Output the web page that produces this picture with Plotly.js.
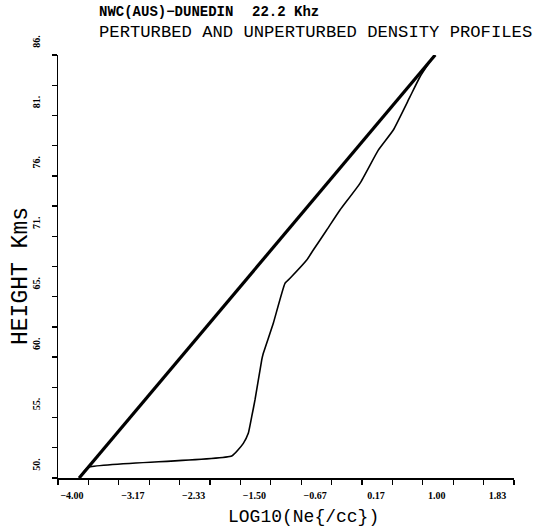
<!DOCTYPE html>
<html>
<head>
<meta charset="utf-8">
<script src="https://cdn.plot.ly/plotly-3.0.1.min.js"></script>
<style>html,body{margin:0;padding:0;background:#fff;}#chart{width:536px;height:531px;}</style>
</head>
<body>
<div id="chart"></div>
<script>
// Unperturbed profile (thick straight line)
const unpertLogNe = [-3.71, -1.50, 1.17];
const unpertHeight = [50.0, 66.3, 86.0];

// Perturbed profile (thin line)
const pertLogNe = [-3.71, -3.585, -1.619, -1.460, -1.392, -1.345, -1.300, -1.208, -1.186, -1.049, -0.889, -0.820, -0.591, -0.501, -0.317, -0.135, 0.139, 0.390, 0.596, 0.825, 0.962, 1.144, 1.17];
const pertHeight = [50.0, 50.91, 51.87, 52.95, 53.80, 55.22, 56.64, 60.04, 60.61, 63.17, 66.57, 67.0, 68.55, 69.40, 71.11, 72.81, 75.08, 77.91, 79.62, 82.45, 84.15, 85.86, 86.0];

// Axis ticks
const xTickVals = [-4.0, -3.5833, -3.1667, -2.75, -2.3333, -1.9167, -1.5, -1.0833, -0.6667, -0.25, 0.1667, 0.5833, 1.0, 1.4167, 1.8333, 2.25];
const xTickText = ["\u22124.00", "", "\u22123.17", "", "\u22122.33", "", "\u22121.50", "", "\u22120.67", "", "0.17", "", "1.00", "", "1.83", ""];
const yTickVals = [50, 52.571, 55.143, 57.714, 60.286, 62.857, 65.429, 68.0, 70.571, 73.143, 75.714, 78.286, 80.857, 83.429, 86];
const yTickText = ["50.", "", "55.", "", "60.", "", "65.", "", "71.", "", "76.", "", "81.", "", "86."];

// Text
const titleLine1a = 'NWC(AUS)\u2212DUNEDIN';
const titleLine1b = '22.2 Khz';
const titleLine2 = 'PERTURBED AND UNPERTURBED DENSITY PROFILES';
const xTitle = 'LOG10(Ne{/cc})';
const yTitle = 'HEIGHT Kms';

const traces = [
  {x: unpertLogNe, y: unpertHeight, mode: 'lines', line: {color: '#000', width: 3.2}, hoverinfo: 'skip'},
  {x: pertLogNe, y: pertHeight, mode: 'lines', line: {color: '#000', width: 1.6, shape: 'spline', smoothing: 0.4}, hoverinfo: 'skip'}
];

const serif = 'Liberation Serif, Times New Roman, serif';
const mono = 'Liberation Mono, Courier New, monospace';
const layout = {
  width: 536, height: 531,
  margin: {l: 58, r: 22, t: 55, b: 53, pad: 0},
  paper_bgcolor: '#fff', plot_bgcolor: '#fff',
  showlegend: false,
  xaxis: {
    range: [-4, 2.25], showgrid: false, zeroline: false,
    showline: true, linecolor: '#000', linewidth: 1.5,
    ticks: 'outside', ticklen: 5, tickwidth: 1.3, tickcolor: '#000',
    tickmode: 'array', tickvals: xTickVals, ticktext: xTickText,
    tickfont: {family: serif, size: 10, color: '#000', weight: 'bold'},
    ticklabelshift: 14, ticklabelstandoff: 2
  },
  yaxis: {
    range: [50, 86], showgrid: false, zeroline: false,
    showline: true, linecolor: '#000', linewidth: 1.5,
    ticks: 'outside', ticklen: 5, tickwidth: 1.3, tickcolor: '#000',
    tickmode: 'array', tickvals: yTickVals, ticktext: yTickText,
    tickangle: -90,
    tickfont: {family: serif, size: 10, color: '#000', weight: 'bold'},
    ticklabelshift: -12, ticklabelstandoff: 8
  },
  annotations: [
    {text: titleLine1a, x: 97, y: 12, showarrow: false, xanchor: 'left', yanchor: 'middle',
     font: {family: mono, size: 14, color: '#000', weight: 'bold'}},
    {text: titleLine1b, x: 250, y: 12, showarrow: false, xanchor: 'left', yanchor: 'middle',
     font: {family: mono, size: 14, color: '#000', weight: 'bold'}},
    {text: titleLine2, x: 97, y: 33, showarrow: false, xanchor: 'left', yanchor: 'middle',
     font: {family: mono, size: 17.2, color: '#000'}},
    {text: xTitle, x: 303, y: 517, showarrow: false, xanchor: 'center', yanchor: 'middle',
     font: {family: mono, size: 18, color: '#000'}},
    {text: yTitle, x: 21, y: 276, showarrow: false, xanchor: 'center', yanchor: 'middle', textangle: -90,
     font: {family: mono, size: 23, color: '#000'}}
  ]
};
// Convert annotation pixel positions to paper coordinates
const pw = 536 - 58 - 22, ph = 531 - 55 - 53;
layout.annotations.forEach(a => {
  a.xref = 'paper'; a.yref = 'paper';
  a.x = (a.x - 58) / pw;
  a.y = (531 - 53 - a.y) / ph;
});
Plotly.newPlot('chart', traces, layout, {staticPlot: true, displayModeBar: false});
</script>
</body>
</html>
